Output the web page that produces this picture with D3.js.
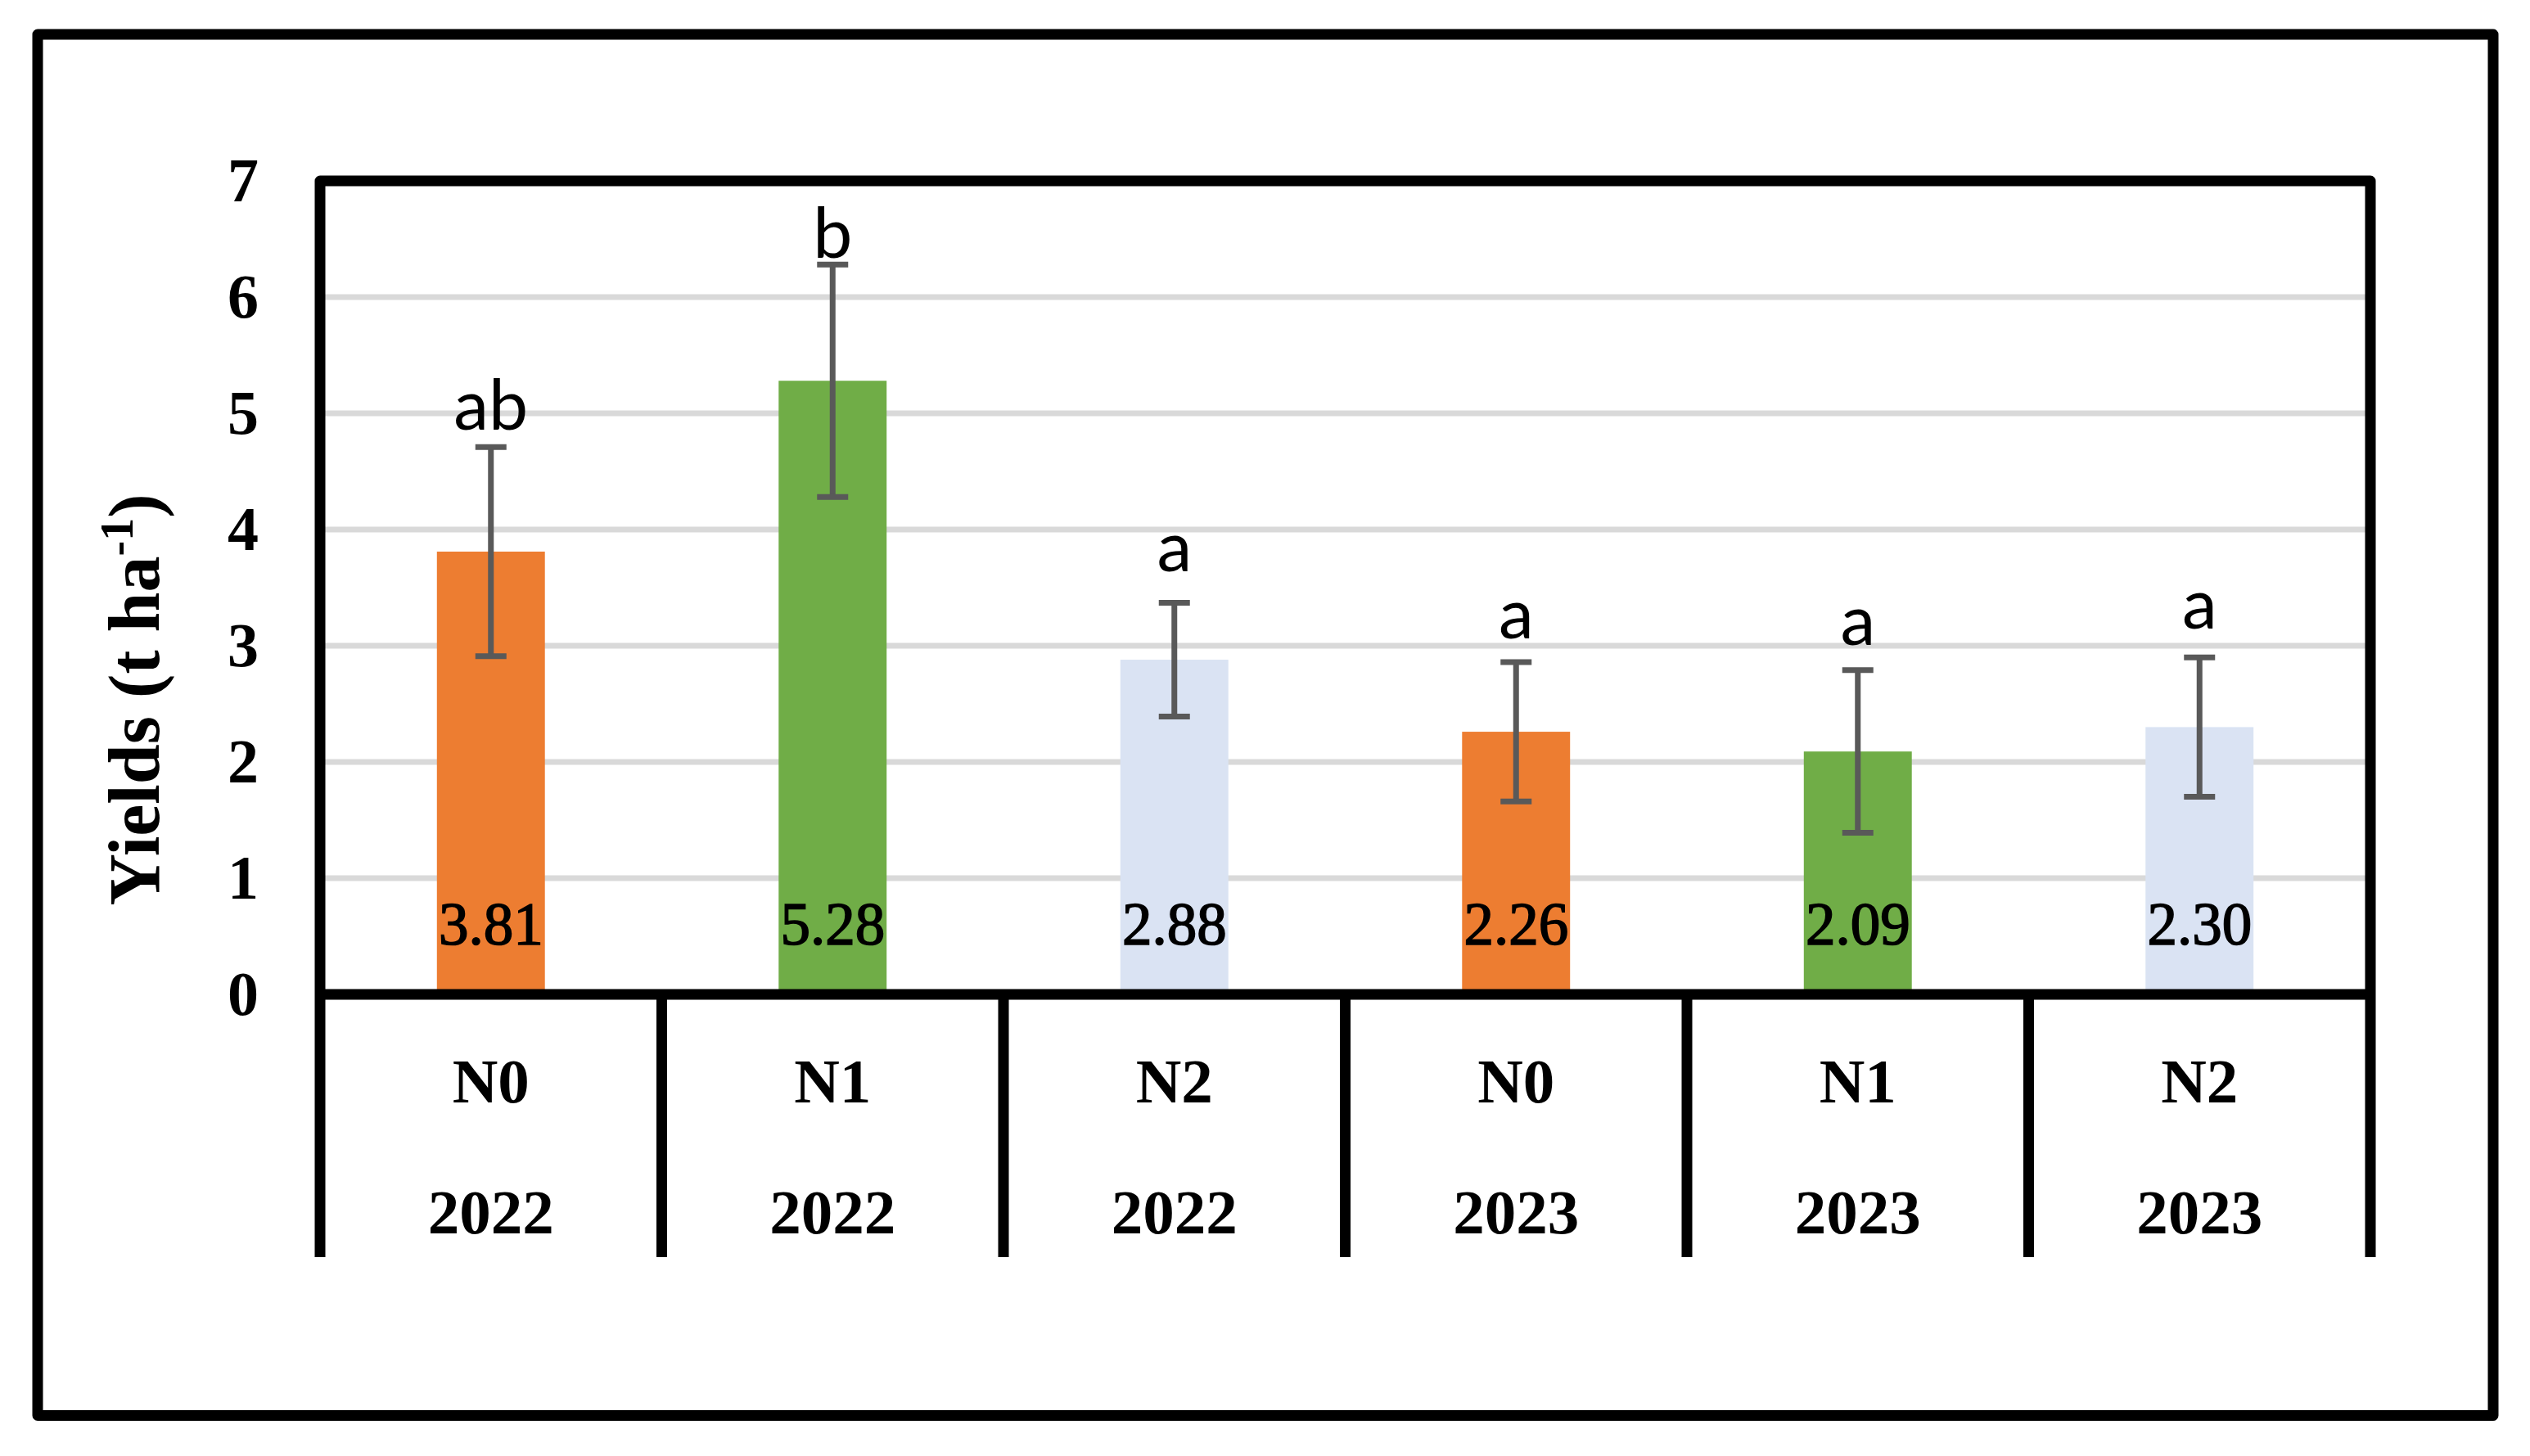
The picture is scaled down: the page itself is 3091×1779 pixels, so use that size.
<!DOCTYPE html>
<html>
<head>
<meta charset="utf-8">
<script src="https://cdn.jsdelivr.net/npm/d3@7"></script>
<style>
  html, body { margin: 0; padding: 0; background: #ffffff; }
  svg { display: block; }
</style>
</head>
<body>
<div id="chart"></div>
<script>
// ---- data ----
const treatments = ["N0", "N1", "N2", "N0", "N1", "N2"];
const years = ["2022", "2022", "2022", "2023", "2023", "2023"];
const yields = [3.81, 5.28, 2.88, 2.26, 2.09, 2.30];
const errors = [0.90, 1.00, 0.49, 0.60, 0.70, 0.60];
const letters = ["ab", "b", "a", "a", "a", "a"];
const letterPos = [4.86, 6.34, 3.64, 3.06, 3.01, 3.15];
const yTicks = [0, 1, 2, 3, 4, 5, 6, 7];
const treatmentNames = ["N0", "N1", "N2"];
const treatmentColors = ["#ED7D31", "#70AD47", "#DAE3F3"];
const yTitle = "Yields (t ha";
const yTitleSup = "-1";
const yTitleEnd = ")";

// ---- layout ----
const W = 3091, H = 1779;
const plotL = 391, plotR = 2896, plotT = 221, plotB = 1215;
const tableB = 1536;
const serif = "'Liberation Serif', 'Times New Roman', serif";
const sans = "Lato, Carlito, Calibri, sans-serif";

const svg = d3.select("#chart").append("svg")
  .attr("width", W).attr("height", H)
  .attr("viewBox", `0 0 ${W} ${H}`);

svg.append("rect").attr("width", W).attr("height", H).attr("fill", "#fff");

const idx = d3.range(yields.length);
const y = d3.scaleLinear().domain([0, 7]).range([plotB, plotT]);
const xCell = d3.scaleBand().domain(idx).range([plotL, plotR]).padding(0);
const xBar = d3.scaleBand().domain(idx).range([plotL, plotR])
  .paddingInner(0.684).paddingOuter(0.342);
const color = d3.scaleOrdinal().domain(treatmentNames).range(treatmentColors);
const cx = i => xBar(i) + xBar.bandwidth() / 2;

// outer frame
svg.append("rect")
  .attr("x", 46).attr("y", 42).attr("width", 3046 - 46).attr("height", 1729.5 - 42)
  .attr("fill", "none").attr("stroke", "#000").attr("stroke-width", 13)
  .attr("stroke-linejoin", "round");

// gridlines
svg.append("g").selectAll("line").data(yTicks.filter(t => t > 0 && t < 7)).join("line")
  .attr("x1", plotL).attr("x2", plotR)
  .attr("y1", d => y(d)).attr("y2", d => y(d))
  .attr("stroke", "#D9D9D9").attr("stroke-width", 7);

// bars
svg.append("g").selectAll("rect").data(idx).join("rect")
  .attr("x", i => xBar(i))
  .attr("width", xBar.bandwidth())
  .attr("y", i => y(yields[i]))
  .attr("height", i => y(0) - y(yields[i]))
  .attr("fill", i => color(treatments[i]));

// error bars
const eb = svg.append("g").attr("stroke", "#595959").attr("stroke-width", 7);
eb.selectAll("line.v").data(idx).join("line").attr("class", "v")
  .attr("x1", cx).attr("x2", cx)
  .attr("y1", i => y(yields[i] + errors[i])).attr("y2", i => y(yields[i] - errors[i]));
eb.selectAll("line.t").data(idx).join("line").attr("class", "t")
  .attr("x1", i => cx(i) - 19).attr("x2", i => cx(i) + 19)
  .attr("y1", i => y(yields[i] + errors[i])).attr("y2", i => y(yields[i] + errors[i]));
eb.selectAll("line.b").data(idx).join("line").attr("class", "b")
  .attr("x1", i => cx(i) - 19).attr("x2", i => cx(i) + 19)
  .attr("y1", i => y(yields[i] - errors[i])).attr("y2", i => y(yields[i] - errors[i]));

// significance letters
svg.append("g").selectAll("text").data(idx).join("text")
  .attr("x", cx).attr("y", i => y(letterPos[i]))
  .attr("text-anchor", "middle")
  .attr("font-family", sans).attr("font-size", 86)
  .attr("fill", "#000")
  .text(i => letters[i]);

// value labels
svg.append("g").selectAll("text").data(idx).join("text")
  .attr("x", cx).attr("y", y(0) - 61)
  .attr("text-anchor", "middle")
  .attr("font-family", serif).attr("font-size", 73)
  .attr("fill", "#000").attr("stroke", "#000").attr("stroke-width", 1.6)
  .text(i => yields[i].toFixed(2));

// inner frame + table
const frame = svg.append("g").attr("stroke", "#000").attr("stroke-width", 13)
  .attr("fill", "none").attr("stroke-linejoin", "round");
frame.append("path")
  .attr("d", `M${plotL},${tableB} L${plotL},${plotT} L${plotR},${plotT} L${plotR},${tableB}`);
frame.append("line")
  .attr("x1", plotL).attr("x2", plotR).attr("y1", plotB).attr("y2", plotB);
frame.selectAll("line.div").data(idx.slice(1)).join("line").attr("class", "div")
  .attr("x1", i => xCell(i)).attr("x2", i => xCell(i))
  .attr("y1", plotB).attr("y2", tableB);

// category labels
const cellC = i => xCell(i) + xCell.bandwidth() / 2;
svg.append("g").selectAll("text").data(idx).join("text")
  .attr("x", cellC).attr("y", 1347)
  .attr("text-anchor", "middle")
  .attr("font-family", serif).attr("font-weight", "bold").attr("font-size", 77)
  .text(i => treatments[i]);
svg.append("g").selectAll("text").data(idx).join("text")
  .attr("x", cellC).attr("y", 1507)
  .attr("text-anchor", "middle")
  .attr("font-family", serif).attr("font-weight", "bold").attr("font-size", 77)
  .text(i => years[i]);

// y axis tick labels
const yAxis = d3.axisLeft(y).tickValues(yTicks).tickSize(0).tickPadding(0)
  .tickFormat(d3.format("d"));
const ag = svg.append("g").attr("transform", "translate(316,0)").call(yAxis);
ag.select(".domain").remove();
ag.selectAll("text")
  .attr("font-family", serif).attr("font-weight", "bold").attr("font-size", 76)
  .attr("fill", "#000").attr("dy", "0.32em");

// y axis title
const yt = svg.append("text")
  .attr("transform", "translate(194,855) rotate(-90)")
  .attr("text-anchor", "middle")
  .attr("font-family", serif).attr("font-weight", "bold").attr("font-size", 88)
  .attr("fill", "#000");
yt.append("tspan").text(yTitle);
yt.append("tspan").attr("font-size", 56).attr("dy", -32).text(yTitleSup);
yt.append("tspan").attr("dy", 32).text(yTitleEnd);
</script>
</body>
</html>
